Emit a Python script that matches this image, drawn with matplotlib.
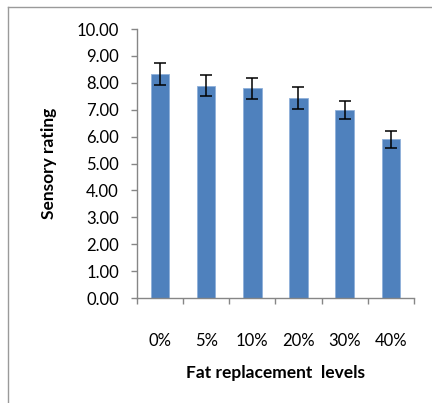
import matplotlib.pyplot as plt
from matplotlib.lines import Line2D

# data
levels = ['0%', '5%', '10%', '20%', '30%', '40%']
rating = [8.32, 7.90, 7.79, 7.44, 6.98, 5.90]
err = [0.41, 0.40, 0.39, 0.40, 0.34, 0.31]

plt.rcParams['font.family'] = ['Lato', 'DejaVu Sans']

fig = plt.figure(figsize=(4.32, 4.03), dpi=100)
ax = fig.add_axes([0.317, 0.2605, 0.641, 0.6675])

x = list(range(len(levels)))
ax.bar(x, rating, width=0.4, color='#4F81BD', edgecolor='#8FB0DA', linewidth=0.6, zorder=2)
ax.errorbar(x, rating, yerr=err, fmt='none', ecolor='black', elinewidth=1.1,
            capsize=4, capthick=1.1, zorder=3)

ax.set_xlim(-0.5, len(levels) - 0.5)
ax.set_ylim(0, 10)
ax.set_yticks(range(0, 11))
ax.set_yticklabels([f'{v:.2f}' for v in range(0, 11)], fontsize=12)

# category ticks on boundaries, labels in the middle
ax.set_xticks([i - 0.5 for i in range(len(levels) + 1)])
ax.set_xticklabels([])
ax.set_xticks(x, minor=True)
ax.set_xticklabels(levels, minor=True, fontsize=12)
ax.tick_params(axis='x', which='minor', length=0, pad=25)
ax.tick_params(axis='both', which='major', length=4, color='#868686', width=1)
ax.tick_params(axis='y', pad=9)

for s in ['top', 'right']:
    ax.spines[s].set_visible(False)
for s in ['left', 'bottom']:
    ax.spines[s].set_color('#868686')
    ax.spines[s].set_linewidth(1)

ax.set_ylabel('Sensory rating', fontsize=12.5, fontweight='bold', labelpad=14)
ax.set_xlabel('Fat replacement  levels', fontsize=12.5, fontweight='bold', labelpad=12)

# chart border (only top and left visible in the crop)
fig.add_artist(Line2D([8 / 432, 8 / 432], [0, 1 - 7 / 403], transform=fig.transFigure,
                      color='#9a9a9a', linewidth=1))
fig.add_artist(Line2D([8 / 432, 1], [1 - 7 / 403, 1 - 7 / 403], transform=fig.transFigure,
                      color='#9a9a9a', linewidth=1))

fig.savefig('out.png', dpi=100)
